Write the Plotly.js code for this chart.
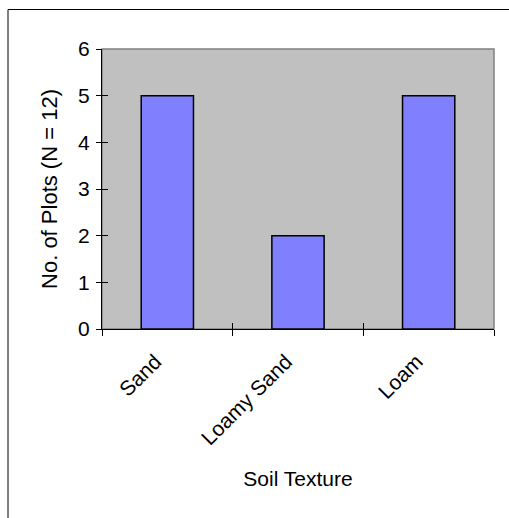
<!DOCTYPE html>
<html>
<head>
<meta charset="utf-8">
<script src="https://cdn.plot.ly/plotly-3.0.1.min.js"></script>
<style>
html,body{margin:0;padding:0;background:#fff;}
#chart{width:509px;height:518px;}
</style>
</head>
<body>
<div id="chart"></div>
<script>
const categories = ["Sand", "Loamy Sand", "Loam"];
const plotCounts = [5, 2, 5];
const yTicks = [0, 1, 2, 3, 4, 5, 6];
const xTitle = "Soil Texture";
const yTitle = "No. of Plots (N = 12)";

const FONT = "Liberation Sans, Arial, sans-serif";

const traces = [
  {
    type: "bar",
    x: categories,
    y: plotCounts,
    width: 0.4,
    marker: { color: "#8080FF", line: { color: "#000000", width: 1.5 } },
    hoverinfo: "x+y"
  },
  {
    type: "bar",
    x: categories,
    y: plotCounts,
    xaxis: "x2",
    yaxis: "y2",
    opacity: 0,
    hoverinfo: "skip",
    showlegend: false
  }
];

const layout = {
  width: 509,
  height: 518,
  margin: { l: 102, r: 15, t: 49, b: 189 },
  paper_bgcolor: "#ffffff",
  plot_bgcolor: "#C0C0C0",
  showlegend: false,
  font: { family: FONT, size: 21, color: "#000" },
  xaxis: {
    type: "category",
    tickson: "boundaries",
    ticks: "outside",
    ticklen: 6,
    tickwidth: 1,
    tickcolor: "#000",
    tickangle: -45,
    ticklabelstandoff: 11,
    ticklabelshift: -12,
    showline: true,
    linecolor: "#000",
    linewidth: 1,
    showgrid: false,
    zeroline: false,
    tickfont: { family: FONT, size: 21, color: "#000" },
    title: { text: xTitle, font: { family: FONT, size: 21, color: "#000" }, standoff: 22 },
    automargin: false
  },
  yaxis: {
    range: [0, 6],
    tickvals: yTicks,
    ticks: "outside",
    ticklen: 5,
    tickwidth: 1,
    tickcolor: "#000",
    showline: true,
    linecolor: "#000",
    linewidth: 1,
    showgrid: false,
    zeroline: false,
    tickfont: { family: FONT, size: 21, color: "#000" },
    ticklabelstandoff: 2,
    title: { text: yTitle, font: { family: FONT, size: 22, color: "#000" }, standoff: 14 },
    automargin: false
  },
  xaxis2: {
    type: "category",
    overlaying: "x",
    side: "bottom",
    tickson: "boundaries",
    ticks: "inside",
    ticklen: 6,
    tickwidth: 1,
    tickcolor: "#000",
    showticklabels: false,
    showline: false,
    showgrid: false,
    zeroline: false
  },
  yaxis2: {
    overlaying: "y",
    side: "left",
    range: [0, 6],
    tickvals: yTicks,
    ticks: "inside",
    ticklen: 6,
    tickwidth: 1,
    tickcolor: "#000",
    showticklabels: false,
    showline: false,
    showgrid: false,
    zeroline: false
  },
  shapes: [
    {
      type: "rect", xref: "paper", yref: "paper",
      x0: 0, x1: 1, y0: 0, y1: 1,
      line: { color: "#808080", width: 1.5 },
      layer: "below"
    },
    {
      type: "rect", xref: "paper", yref: "paper",
      x0: (8 - 102) / 392, x1: (512 - 102) / 392,
      y0: (329 - 522) / 280, y1: (329 - 9.5) / 280,
      line: { color: "#000", width: 1 },
      fillcolor: "rgba(0,0,0,0)"
    }
  ]
};

Plotly.newPlot("chart", traces, layout, { displayModeBar: false, staticPlot: true });
</script>
</body>
</html>
